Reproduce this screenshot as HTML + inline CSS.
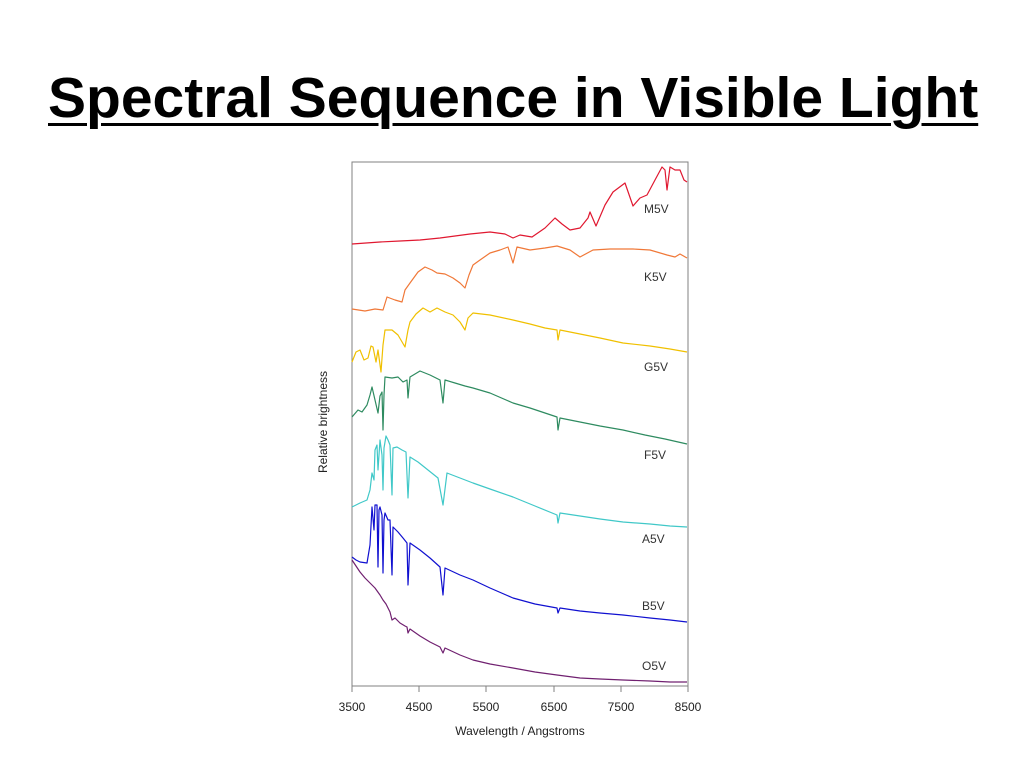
<!DOCTYPE html>
<html><head><meta charset="utf-8"><style>
body{margin:0;background:#fff;width:1024px;height:768px;overflow:hidden;position:relative;font-family:"Liberation Sans",Arial,sans-serif}
h1{position:absolute;left:48px;top:70px;margin:0;font-size:57px;line-height:57px;font-weight:bold;text-decoration:underline;text-decoration-thickness:3px;text-underline-offset:6px;color:#000;white-space:nowrap;letter-spacing:0px}
</style></head><body>
<h1>Spectral Sequence in Visible Light</h1>
<svg width="1024" height="768" style="position:absolute;left:0;top:0" font-family="Liberation Sans, Arial, sans-serif">
<rect x="352" y="162" width="336" height="524" fill="none" stroke="#808080" stroke-width="1"/>
<g stroke="#808080"><line x1="352" y1="686" x2="352" y2="692"/><line x1="419" y1="686" x2="419" y2="692"/><line x1="486" y1="686" x2="486" y2="692"/><line x1="554" y1="686" x2="554" y2="692"/><line x1="621" y1="686" x2="621" y2="692"/><line x1="688" y1="686" x2="688" y2="692"/></g>
<g font-size="12" fill="#222" text-anchor="middle"><text x="352" y="711">3500</text><text x="419" y="711">4500</text><text x="486" y="711">5500</text><text x="554" y="711">6500</text><text x="621" y="711">7500</text><text x="688" y="711">8500</text>
<text x="520" y="735">Wavelength / Angstroms</text>
<text transform="translate(327,422) rotate(-90)">Relative brightness</text></g>
<g font-size="12" fill="#333"><text x="644" y="213">M5V</text><text x="644" y="281">K5V</text><text x="644" y="371">G5V</text><text x="644" y="459">F5V</text><text x="642" y="543">A5V</text><text x="642" y="610">B5V</text><text x="642" y="670">O5V</text></g>
<g fill="none" stroke-width="1.2" stroke-linejoin="round">
<polyline stroke="#e01830" points="352,244 380,242 400,241 420,240 440,238 455,236 470,234 490,232 505,234 513,238 520,235 532,237 545,228 555,218 562,224 570,230 580,228 588,218 590,212 596,226 605,205 613,192 625,183 633,206 640,198 647,195 655,180 662,167 665,170 667,190 670,167 675,170 680,170 684,180 687,182"/>
<polyline stroke="#f07838" points="352,309 365,311 375,309 383,310 387,297 395,300 402,302 405,290 410,283 418,272 425,267 432,270 437,273 445,274 453,278 460,283 465,288 469,275 473,265 480,260 490,253 500,250 508,247 513,263 517,247 530,250 545,248 557,246 570,250 580,257 593,250 610,249 633,249 650,250 667,255 675,257 680,254 687,258"/>
<polyline stroke="#f0c000" points="352,362 356,352 360,350 364,360 368,358 371,346 373,347 376,362 378,350 381,372 383,345 385,330 392,330 398,335 405,347 408,330 410,322 416,314 423,308 430,312 437,308 445,312 453,315 460,322 465,330 468,318 473,313 490,315 513,320 530,324 545,328 557,330 558,340 560,330 580,334 600,338 623,343 650,346 670,349 687,352"/>
<polyline stroke="#2e8b60" points="352,417 358,410 362,412 367,405 370,395 372,387 375,400 378,413 380,396 382,392 383,430 384,395 385,377 392,378 398,377 403,382 407,380 408,398 410,377 420,371 430,375 440,380 443,403 445,380 455,383 465,386 473,388 490,393 513,403 530,408 545,413 557,417 558,430 560,418 580,422 600,426 623,430 645,435 665,439 687,444"/>
<polyline stroke="#40c8c8" points="352,507 360,503 367,500 370,490 372,473 374,480 375,450 377,445 378,470 380,440 382,455 383,490 384,448 386,436 388,440 390,445 392,495 393,448 397,447 402,450 406,452 408,498 410,457 418,462 428,470 438,478 443,505 447,473 460,478 473,483 490,489 513,497 535,506 557,515 558,523 560,513 580,516 600,519 623,522 650,524 670,526 687,527"/>
<polyline stroke="#1010d0" points="352,557 356,560 360,562 367,563 370,545 372,507 374,530 375,505 377,505 378,567 379,510 380,507 382,515 383,573 384,520 385,513 388,520 390,520 392,575 393,527 398,532 403,538 407,543 408,585 410,543 420,550 430,558 440,567 443,595 445,568 460,575 473,580 490,588 513,598 535,604 557,608 558,613 560,608 580,611 600,613 623,615 650,618 670,620 687,622"/>
<polyline stroke="#702070" points="352,560 360,572 365,578 370,583 375,588 380,595 383,600 386,604 390,612 392,620 395,618 400,623 405,626 407,627 408,633 410,629 420,636 430,642 440,647 443,653 445,648 460,655 473,660 490,664 513,668 535,672 557,675 580,678 600,679 623,680 650,681 670,682 687,682"/>
</g>
</svg>
</body></html>
